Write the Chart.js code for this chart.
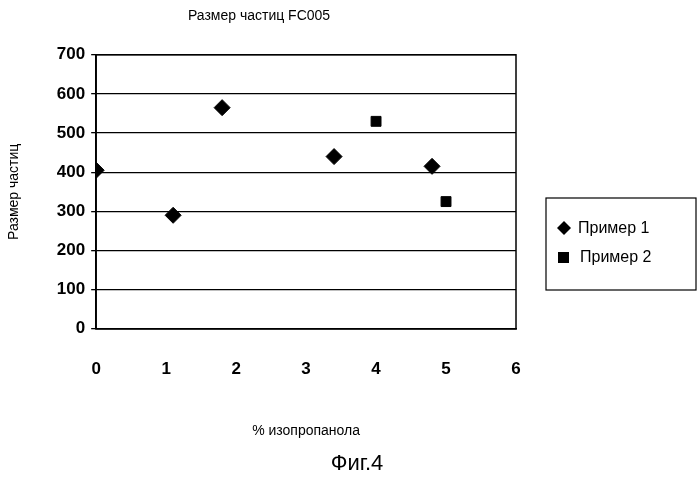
<!DOCTYPE html><html><head><meta charset="utf-8">
<script src="https://cdn.jsdelivr.net/npm/chart.js@4"></script>
<style>body{margin:0;background:#fff}#w{width:700px;height:480px}</style></head><body>
<div id="w"><canvas id="c"></canvas></div>
<script>
const seriesNames=["Пример 1","Пример 2"];
const ex1X=[0,1.1,1.8,3.4,4.8];
const ex1Y=[405,290,565,440,415];
const ex2X=[4.0,5.0];
const ex2Y=[530,325];
const xTicks=[0,1,2,3,4,5,6];
const yTicks=[0,100,200,300,400,500,600,700];
const pts=(xs,ys)=>xs.map((x,i)=>({x,y:ys[i]}));
const F="Arial, 'Liberation Sans', sans-serif";
const extra={id:'extra',
 afterDraw(ch){const c=ch.ctx,a=ch.chartArea;c.save();c.strokeStyle='#000';c.fillStyle='#000';c.lineWidth=1.5;
  c.strokeRect(a.left,a.top,a.right-a.left,a.bottom-a.top);
  c.lineWidth=1.2;c.strokeRect(546,198,150,92);
  c.font='16px '+F;c.textBaseline='middle';c.textAlign='left';
  // legend markers
  c.beginPath();c.moveTo(564,221);c.lineTo(571,228);c.lineTo(564,235);c.lineTo(557,228);c.closePath();c.fill();
  c.fillText(seriesNames[0],578,229);
  c.fillRect(558,231+0,0,0);c.fillRect(558,252,11,11);
  c.fillText(seriesNames[1],580,258);
  c.font='22px '+F;c.textAlign='center';c.fillText('Фиг.4',357,464);c.restore();}};
new Chart(document.getElementById('c'),{type:'scatter',
 data:{datasets:[
  {label:seriesNames[0],data:pts(ex1X,ex1Y),pointStyle:'rectRot',pointRadius:8,backgroundColor:'#000',borderColor:'#000'},
  {label:seriesNames[1],data:pts(ex2X,ex2Y),pointStyle:'rect',pointRadius:7,backgroundColor:'#000',borderColor:'#000'}]},
 options:{responsive:true,maintainAspectRatio:false,animation:false,
  layout:{padding:{left:2,right:184,top:0,bottom:36}},
  plugins:{title:{display:true,text:'Размер частиц FC005',color:'#000',font:{family:F,size:14,weight:'normal'},padding:{top:8,bottom:30}},
   legend:{display:false},tooltip:{enabled:false}},
  scales:{
   x:{type:'linear',min:0,max:6,afterBuildTicks:s=>{s.ticks=xTicks.map(v=>({value:v}))},
    grid:{display:false},border:{color:'#000',width:1.5},
    ticks:{color:'#000',font:{family:F,size:17,weight:'bold'},padding:22},
    title:{display:true,text:'% изопропанола',color:'#000',font:{family:F,size:14},padding:{top:22}}},
   y:{min:0,max:700,afterBuildTicks:s=>{s.ticks=yTicks.map(v=>({value:v}))},
    grid:{color:'#000',lineWidth:1.3,tickLength:5},border:{color:'#000',width:1.5},
    ticks:{color:'#000',font:{family:F,size:17,weight:'bold'},padding:6},
    title:{display:true,text:'Размер частиц',color:'#000',font:{family:F,size:14},padding:{bottom:28}}}}},
 plugins:[extra]});
</script></body></html>
